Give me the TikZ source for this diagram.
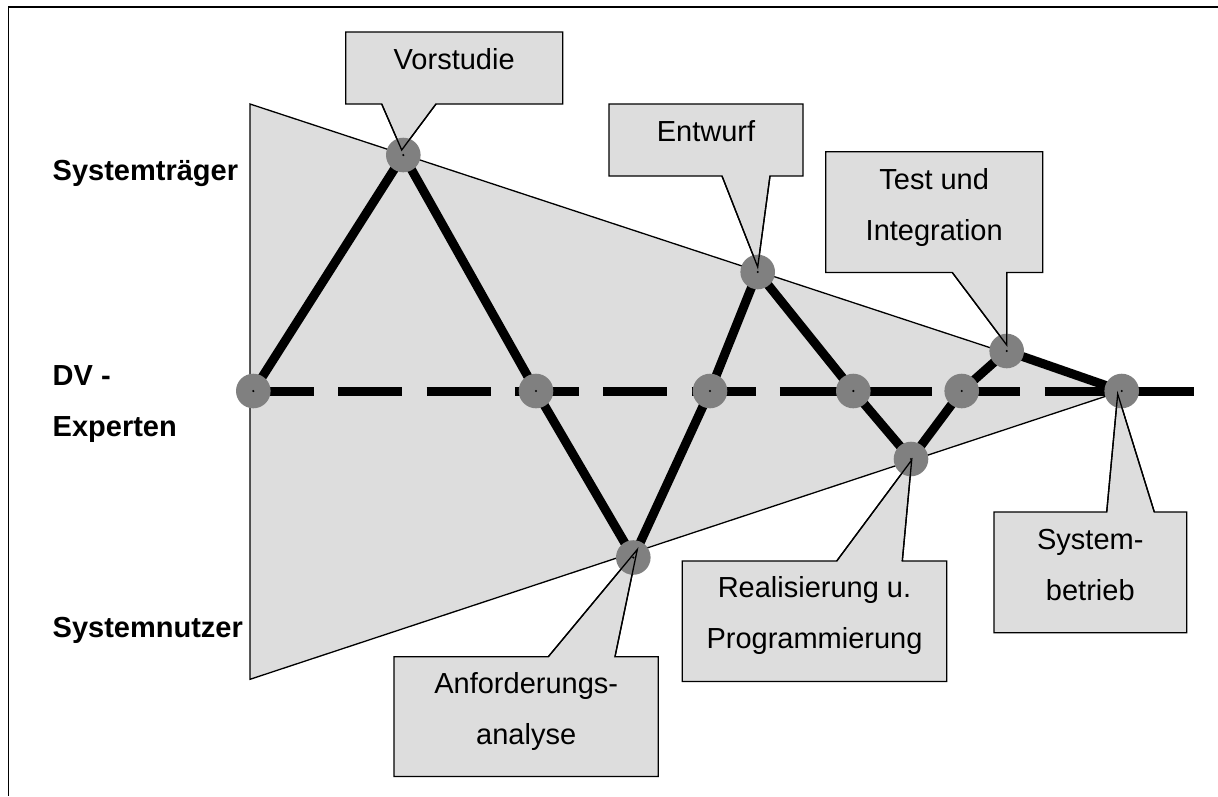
\documentclass[tikz,border=0pt]{standalone}
\usepackage{fontspec}
\setmainfont{Liberation Sans}
\usetikzlibrary{calc}
\definecolor{panel}{HTML}{DDDDDD}
\definecolor{knot}{HTML}{808080}
\pgfdeclarelayer{bg}
\pgfdeclarelayer{lines}
\pgfdeclarelayer{top}
\pgfsetlayers{bg,lines,main,top}

\begin{document}
\begin{tikzpicture}[x=1pt,y=-1pt,
  thinline/.style={line width=1.3pt, line join=miter},
  phase/.style={circle, fill=knot, minimum size=34.6pt, inner sep=0pt},
  calloutfill/.style={fill=panel, draw=black, line width=1.3pt},
  calloutedge/.style={draw=black, line width=1.3pt},
  boxtext/.style={font=\fontsize{29}{51}\selectfont, align=center, anchor=base, inner sep=0pt},
  rolelabel/.style={font=\bfseries\fontsize{29}{51}\selectfont, align=left, anchor=base west, inner sep=0pt},
  pathline/.style={line width=9pt, line join=round},
]
\useasboundingbox (0,0) rectangle (1218,796);

% phase points
\node[phase] (n1) at (253.3,391) {};
\node[phase] (V)  at (403.3,155) {};
\node[phase] (n2) at (536,391) {};
\node[phase] (A)  at (633.3,557.5) {};
\node[phase] (n3) at (710,391) {};
\node[phase] (E)  at (757.7,272) {};
\node[phase] (n4) at (853.3,391) {};
\node[phase] (R)  at (911,459) {};
\node[phase] (n5) at (961.7,391) {};
\node[phase] (T)  at (1006.7,351) {};
\node[phase] (S)  at (1121.7,391) {};
\coordinate (lineend) at (1194.3,391);

% frame (top and left edge)
\draw[line width=1.5pt] (1218,7) -- (8.7,7) -- (8.7,796);

\begin{pgfonlayer}{bg}
  % funnel of involved parties
  \fill[panel] (250,104) -- (S.center) -- (250,679.3) -- cycle;
  \draw[thinline] (250,104) -- (S.center) -- (250,679.3) -- cycle;
\end{pgfonlayer}

\begin{pgfonlayer}{lines}
  % level of the DV experts
  \draw[pathline, dash pattern=on 64pt off 24.3pt, dash phase=3.3pt] (n1.center) -- (S.center);
  \draw[pathline] (S.center) -- (lineend);
  % course of the project
  \draw[pathline] (n1.center) -- (V.center) -- (n2.center) -- (A.center) -- (n3.center)
    -- (E.center) -- (n4.center) -- (R.center) -- (n5.center) -- (T.center) -- (S.center);

  % callout boxes
  \draw[calloutfill] (345.7,32) -- (562.7,32) -- (562.7,104) -- (436,104) -- ($(V)+(-1.6,-5)$) -- (381.7,104) -- (345.7,104) -- cycle;
  \draw[calloutfill] (609,104) -- (803,104) -- (803,176) -- (770,176) -- ($(E)+(0,-5)$) -- (722,176) -- (609,176) -- cycle;
  \draw[calloutfill] (825.7,151.7) -- (1042.7,151.7) -- (1042.7,272.5) -- (1006.7,272.5) -- ($(T)+(0,-6)$) -- (952.3,272.5) -- (825.7,272.5) -- cycle;
  \draw[calloutfill] (394,656.7) -- (548.3,656.7) -- ($(A)+(4,-8)$) -- (615,656.7) -- (658.3,656.7) -- (658.3,776.5) -- (394,776.5) -- cycle;
  \draw[calloutfill] (682.3,561) -- (836.7,561) -- ($(R)+(0.7,1)$) -- (902.3,561) -- (946.7,561) -- (946.7,681.5) -- (682.3,681.5) -- cycle;
  \draw[calloutfill] (994,512) -- (1106.7,512) -- ($(S)+(-4,3)$) -- (1154.3,512) -- (1186.7,512) -- (1186.7,632.7) -- (994,632.7) -- cycle;
\end{pgfonlayer}

\begin{pgfonlayer}{top}
  % pointer edges over the phase points
  \draw[calloutedge] (436,104) -- ($(V)+(-1.6,-5)$) -- (381.7,104);
  \draw[calloutedge] (770,176) -- ($(E)+(0,-5)$) -- (722,176);
  \draw[calloutedge] (1006.7,272.5) -- ($(T)+(0,-6)$) -- (952.3,272.5);
  \draw[calloutedge] (548.3,656.7) -- ($(A)+(4,-8)$) -- (615,656.7);
  \draw[calloutedge] (836.7,561) -- ($(R)+(0.7,1)$) -- (902.3,561);
  \draw[calloutedge] (1106.7,512) -- ($(S)+(-4,3)$) -- (1154.3,512);
  % centre dots
  \foreach \p in {n1,V,n2,A,n3,E,n4,R,n5,T,S}
    \fill (\p.center) circle (1.2pt);

  % callout texts (base = baseline of the last line)
  \node[boxtext] (tV) at (454.2,69.3) {Vorstudie};
  \node[boxtext] (tE) at (706,141.7) {Entwurf};
  \node[boxtext] (tT) at (934.2,240) {Test und\\Integration};
  \node[boxtext] (tA) at (526.2,744.3) {Anforderungs-\\analyse};
  \node[boxtext] (tR) at (814.5,648.3) {Realisierung u.\\Programmierung};
  \node[boxtext] (tS) at (1090.3,600) {System-\\betrieb};

  % party labels
  \node[rolelabel] (l1) at (52.5,180) {Systemträger};
  \node[rolelabel] (l2) at (52.5,436) {DV -\\Experten};
  \node[rolelabel] (l3) at (52.5,637.7) {Systemnutzer};
\end{pgfonlayer}
\end{tikzpicture}
\end{document}
